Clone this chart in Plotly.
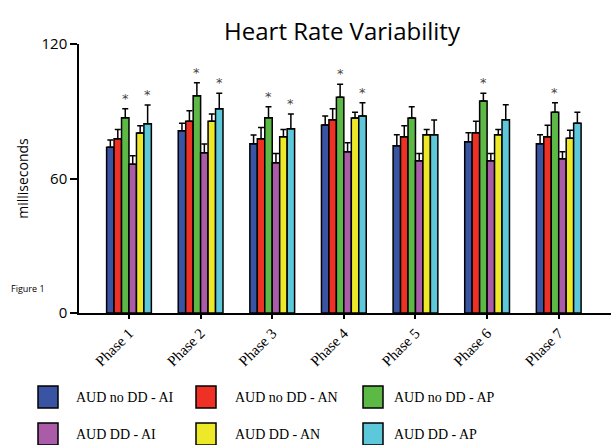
import plotly.graph_objects as go

phases = ["Phase 1", "Phase 2", "Phase 3", "Phase 4", "Phase 5", "Phase 6", "Phase 7"]
series_names = ["AUD no DD - AI", "AUD no DD - AN", "AUD no DD - AP",
                "AUD DD - AI", "AUD DD - AN", "AUD DD - AP"]
colors = ["#3a54a4", "#ee3124", "#5cb946", "#ab5ca8", "#ede828", "#5cc8da"]

means_no_dd_ai = [73.9, 81.3, 75.5, 83.9, 74.6, 76.4, 75.5]
means_no_dd_an = [77.7, 85.5, 77.7, 86.2, 78.6, 80.4, 78.6]
means_no_dd_ap = [87.1, 96.9, 87.1, 96.2, 87.0, 94.6, 89.5]
means_dd_ai = [66.4, 71.5, 67.0, 71.9, 67.9, 67.9, 68.8]
means_dd_an = [80.3, 85.5, 78.6, 87.0, 79.5, 79.5, 77.9]
means_dd_ap = [84.4, 91.1, 82.2, 87.9, 79.5, 86.2, 84.6]

err_no_dd_ai = [3.3, 3.3, 3.9, 4.0, 4.9, 4.0, 4.0]
err_no_dd_an = [4.2, 4.7, 5.1, 4.9, 4.9, 5.1, 5.1]
err_no_dd_ap = [4.0, 5.8, 4.9, 5.8, 5.0, 3.4, 4.3]
err_dd_ai = [3.8, 3.9, 4.1, 4.1, 3.2, 3.2, 3.1]
err_dd_an = [3.2, 3.3, 3.3, 2.5, 2.4, 2.4, 3.6]
err_dd_ap = [8.4, 6.9, 6.6, 5.9, 6.6, 6.7, 4.9]

# significance stars: (phase index, series index)
stars = [(0, 2), (0, 5), (1, 2), (1, 5), (2, 2), (2, 5), (3, 2), (3, 5), (5, 2), (6, 2)]

means = [means_no_dd_ai, means_no_dd_an, means_no_dd_ap, means_dd_ai, means_dd_an, means_dd_ap]
errs = [err_no_dd_ai, err_no_dd_an, err_no_dd_ap, err_dd_ai, err_dd_an, err_dd_ap]

BARGAP = 0.375
fig = go.Figure()
for name, m, e, c in zip(series_names, means, errs, colors):
    fig.add_trace(go.Bar(
        x=phases, y=m, name=name,
        marker=dict(color=c, line=dict(color="black", width=1.5)),
        error_y=dict(type="data", array=e, symmetric=False,
                     arrayminus=[0] * len(e), color="black", thickness=1.5, width=3),
        showlegend=False,
    ))

n = len(series_names)
bw = (1 - BARGAP) / n
annotations = []
for (p, s) in stars:
    xc = p - (1 - BARGAP) / 2 + (s + 0.5) * bw
    annotations.append(dict(x=xc, y=means[s][p] + errs[s][p], xref="x", yref="y",
                            text="*", showarrow=False, yanchor="bottom", yshift=1,
                            font=dict(family="DejaVu Sans", size=13, color="#444")))

# plot area in pixels
L, R, T, B = 79, 611, 44, 313
W, H = R - L, B - T


def px(xp):
    return (xp - L) / W


def py(yp):
    return (B - yp) / H


shapes = []
col_sw = [38, 196, 363]
col_tx = [74, 233, 392]
row_y = [(386, 408), (423, 445)]
for i, (name, c) in enumerate(zip(series_names, colors)):
    r, cc = divmod(i, 3)
    y0, y1 = row_y[r]
    x0 = col_sw[cc]
    shapes.append(dict(type="rect", xref="paper", yref="paper",
                       x0=px(x0), x1=px(x0 + 20), y0=py(y1), y1=py(y0),
                       fillcolor=c, line=dict(color="black", width=1.5)))
    annotations.append(dict(x=px(col_tx[cc]), y=py((y0 + y1) / 2), xref="paper", yref="paper",
                            text=name, showarrow=False, xanchor="left", yanchor="middle",
                            font=dict(family="Liberation Serif", size=14, color="black")))

annotations.append(dict(x=px(9), y=py(288), xref="paper", yref="paper", text="Figure 1",
                        showarrow=False, xanchor="left", yanchor="middle",
                        font=dict(family="Open Sans", size=9, color="black")))

fig.update_layout(
    width=611, height=445,
    margin=dict(l=L, r=611 - R, t=T, b=445 - B),
    paper_bgcolor="white", plot_bgcolor="white",
    barmode="group", bargap=BARGAP, bargroupgap=0,
    title=dict(text="Heart Rate Variability", x=342 / 611, xanchor="center",
               y=1 - 32 / 445, yanchor="middle",
               font=dict(family="Open Sans", size=24, color="black")),
    xaxis=dict(range=[-0.698, 6.73], showline=True, linecolor="black", linewidth=1.5,
               ticks="outside", ticklen=4, tickcolor="black", tickwidth=1.5,
               tickangle=-45, showgrid=False, zeroline=False,
               tickfont=dict(family="Liberation Serif", size=15, color="black")),
    yaxis=dict(range=[0, 120], tickvals=[0, 60, 120], showline=True, linecolor="black",
               linewidth=1.5, ticks="outside", ticklen=7, tickcolor="black", tickwidth=1.5,
               showgrid=False, zeroline=False,
               tickfont=dict(family="Open Sans", size=15, color="black"),
               title=dict(text="milliseconds", standoff=10,
                          font=dict(family="Open Sans", size=14, color="black"))),
    shapes=shapes,
    annotations=annotations,
)

fig.write_html("out.html")
